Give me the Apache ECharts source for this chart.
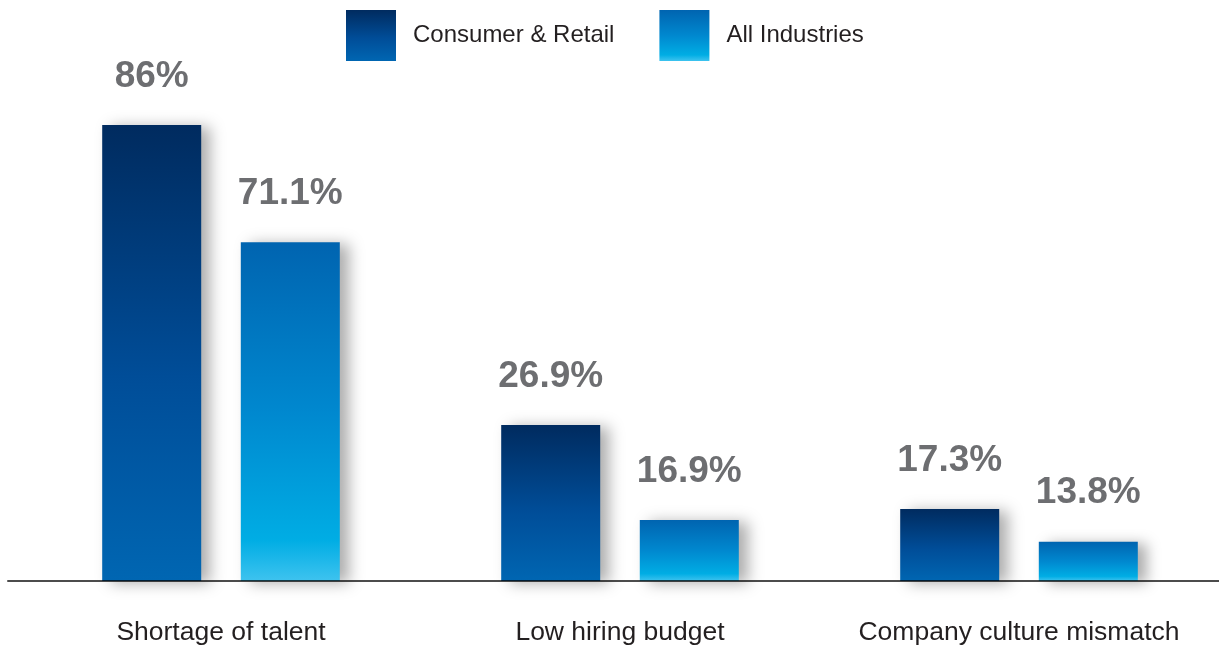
<!DOCTYPE html>
<html>
<head>
<meta charset="utf-8">
<script src="https://cdn.jsdelivr.net/npm/echarts@6/dist/echarts.min.js"></script>
<style>
  html, body { margin: 0; padding: 0; background: #ffffff; }
  #chart { width: 1219px; height: 649px; }
</style>
</head>
<body>
<div id="chart"></div>
<script>
// ---- data ----
const categories = ['Shortage of talent', 'Low hiring budget', 'Company culture mismatch'];
const seriesNames = ['Consumer & Retail', 'All Industries'];
// values printed on the bars
const consumerRetail = [86, 26.9, 17.3];
const allIndustries = [71.1, 16.9, 13.8];
// bar heights as drawn in the reference (the source bars are not to scale with their labels)
const consumerRetailBarHeights = [86, 29.4, 13.6];
const allIndustriesBarHeights = [63.9, 11.5, 7.4];

const FONT = '"Liberation Sans", Arial, Helvetica, sans-serif';

const chart = echarts.init(document.getElementById('chart'), null, { renderer: 'canvas' });

function grad(stops) {
  return new echarts.graphic.LinearGradient(0, 0, 0, 1, stops.map(s => ({ offset: s[0], color: s[1] })));
}

const consumerColor = grad([[0, '#002b5f'], [0.55, '#004d98'], [1, '#0066b2']]);
const allColor = grad([[0, '#0064b0'], [0.5, '#0088cf'], [0.88, '#00ade4'], [1, '#3ec3ef']]);

const shadow = { shadowBlur: 14, shadowColor: 'rgba(0,0,0,0.32)', shadowOffsetX: 9, shadowOffsetY: 2 };

function labelFor(values) {
  return {
    show: true,
    position: 'top',
    distance: 30,
    fontFamily: FONT,
    fontSize: 37,
    fontWeight: 'bold',
    color: '#6d6e71',
    formatter: p => values[p.dataIndex] + '%'
  };
}

const option = {
  animation: false,
  backgroundColor: '#ffffff',
  legend: {
    data: seriesNames,
    left: 346,
    top: 10,
    padding: 0,
    itemWidth: 50,
    itemHeight: 51,
    itemGap: 45,
    icon: 'rect',
    itemStyle: { shadowBlur: 0, shadowColor: 'rgba(0,0,0,0)', shadowOffsetX: 0, shadowOffsetY: 0 },
    textStyle: { fontFamily: FONT, fontSize: 24, color: '#231f20', padding: [0, 0, 0, 12] }
  },
  grid: [
    { left: 21.5, right: 0.5, top: 125, bottom: 68 },
    { left: 8, right: 0, top: 125, bottom: 68 }
  ],
  xAxis: [
    {
      type: 'category',
      data: categories,
      gridIndex: 0,
      axisLine: { show: false },
      axisTick: { show: false },
      axisLabel: { interval: 0, margin: 38, fontFamily: FONT, fontSize: 26.5, color: '#231f20' }
    },
    {
      type: 'value',
      gridIndex: 1,
      z: 10,
      axisLine: { show: true, onZero: false, lineStyle: { color: 'rgba(0,0,0,0.7)', width: 2 } },
      axisTick: { show: false },
      axisLabel: { show: false },
      splitLine: { show: false }
    }
  ],
  yAxis: [
    { type: 'value', gridIndex: 0, min: 0, max: 86, show: false, splitLine: { show: false } },
    { type: 'value', gridIndex: 1, min: 0, max: 1, show: false, splitLine: { show: false } }
  ],
  series: [
    {
      name: seriesNames[0],
      type: 'bar',
      data: consumerRetailBarHeights,
      barWidth: 99,
      barGap: '40%',
      itemStyle: Object.assign({ color: consumerColor }, shadow),
      label: labelFor(consumerRetail)
    },
    {
      name: seriesNames[1],
      type: 'bar',
      data: allIndustriesBarHeights,
      barWidth: 99,
      barGap: '40%',
      itemStyle: Object.assign({ color: allColor }, shadow),
      label: labelFor(allIndustries)
    }
  ]
};

chart.setOption(option);
</script>
</body>
</html>
